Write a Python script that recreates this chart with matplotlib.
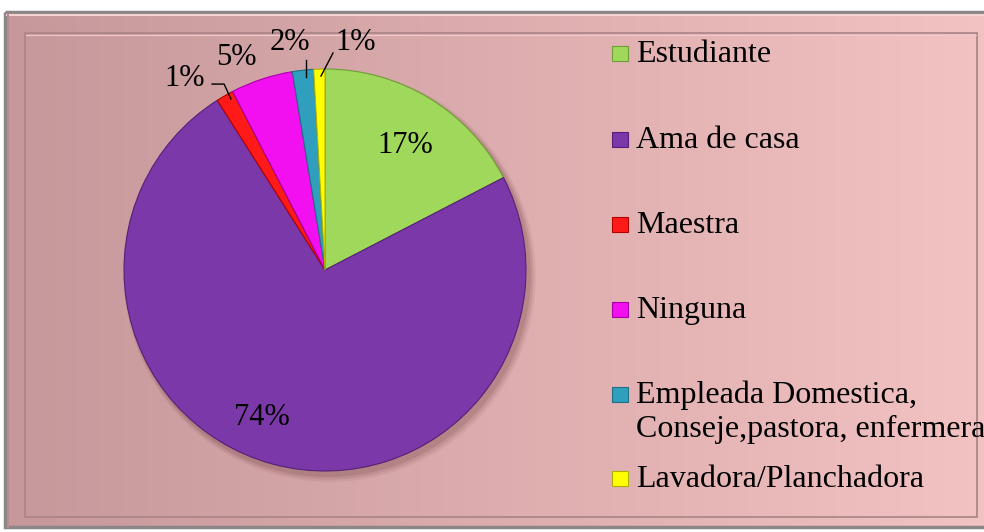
import numpy as np
import matplotlib
matplotlib.use("Agg")
import matplotlib.pyplot as plt
from matplotlib.patches import Rectangle, Circle

categories = ["Estudiante", "Ama de casa", "Maestra", "Ninguna",
              "Empleada Domestica,\nConseje,pastora, enfermera",
              "Lavadora/Planchadora"]
values = [17.4, 73.6, 1.4, 5.0, 1.7, 0.9]
pct_labels = ["17%", "74%", "1%", "5%", "2%", "1%"]
colors = ["#9fd85a", "#7b38a8", "#ff1a1a", "#f20ff0", "#2f9fbd", "#ffff00"]
edge_colors = ["#6e9e36", "#552078", "#b00000", "#a800a6", "#1f6f85", "#b0b000"]

W, H = 984, 532
plt.rcParams['font.family'] = ['Liberation Serif', 'DejaVu Serif']

fig = plt.figure(figsize=(W / 100, H / 100), dpi=100)
fig.patch.set_facecolor("white")

# background axes in pixel coordinates
bg = fig.add_axes([0, 0, 1, 1])
bg.set_xlim(0, W)
bg.set_ylim(H, 0)
bg.axis("off")

x0, y0, x1, y1 = 5, 12, 990, 527
left = np.array([198, 152, 155]) / 255
right = np.array([243, 194, 194]) / 255
t = np.linspace(0, 1, 256)
grad = left[None, :] * (1 - t[:, None]) + right[None, :] * t[:, None]
img = np.tile(grad[None, :, :], (4, 1, 1))
bg.imshow(img, extent=[x0, x1, y1, y0], aspect="auto", zorder=0, interpolation="bilinear")
bg.add_patch(Rectangle((x0, y0), x1 - x0, y1 - y0, fill=False, edgecolor="#8c8686", lw=2.5, zorder=2))
bg.plot([x0 + 2, x1], [y0 + 3, y0 + 3], color="#f6d2d4", lw=1.5, zorder=2)
bg.plot([x0 + 3, x0 + 3], [y0 + 2, y1], color="#b88a8c", lw=1.5, zorder=2)
bg.add_patch(Rectangle((25, 33), 977 - 25, 517 - 33, fill=False, edgecolor="#a88486", lw=1.2, zorder=2))
bg.plot([26, 976], [34.5, 34.5], color="#f2c8ca", lw=0.8, zorder=2)

# pie axes: center (325, 270) px, radius 201 px
cx, cy, r = 325, 270, 201
ax = fig.add_axes([(cx - r) / W, (H - cy - r) / H, 2 * r / W, 2 * r / H])
ax.patch.set_visible(False)

# soft shadow
for k, a in zip([6, 4, 2], [0.10, 0.15, 0.2]):
    ax.add_patch(Circle((0.012 + k * 0.002, -0.018 - k * 0.002), 1.0 + k * 0.004,
                        color="#7a4a4c", alpha=a, lw=0, zorder=0, clip_on=False))

wedges, _ = ax.pie(values, colors=colors, startangle=90, counterclock=False,
                   radius=1.0, wedgeprops=dict(linewidth=0.8))
for w, ec in zip(wedges, edge_colors):
    w.set_edgecolor(ec)
    w.set_clip_on(False)
ax.set_xlim(-1, 1)
ax.set_ylim(-1, 1)
ax.set_aspect("auto")
ax.axis("off")

label_pos = [(0.40, 0.62), (-0.313, -0.736), (-0.70, 0.955),
             (-0.44, 1.055), (-0.174, 1.13), (0.154, 1.13)]
for (lx, ly), txt in zip(label_pos, pct_labels):
    ax.text(lx, ly, txt, ha="center", va="center", fontsize=22, color="black", clip_on=False)

leaders = [
    [(-0.562, 0.925), (-0.502, 0.925), (-0.468, 0.851)],
    [(-0.095, 1.045), (-0.095, 0.96)],
    [(0.04, 1.08), (-0.02, 0.965)],
]
for pts in leaders:
    xs, ys = zip(*pts)
    ax.plot(xs, ys, color="black", lw=1.0, clip_on=False)

# legend
baselines = [62, 148, 233, 318, 403, 487]
line_step = 34
for cat, col, ec, b in zip(categories, colors, edge_colors, baselines):
    sq_c = b - 9
    bg.add_patch(Rectangle((612, sq_c - 7.5), 16, 15, facecolor=col, edgecolor=ec, lw=0.8, zorder=3))
    for i, line in enumerate(cat.split("\n")):
        bg.text(636, b + i * line_step, line, ha="left", va="baseline",
                fontsize=23, color="black", zorder=3)

fig.savefig("out.png", dpi=100)
